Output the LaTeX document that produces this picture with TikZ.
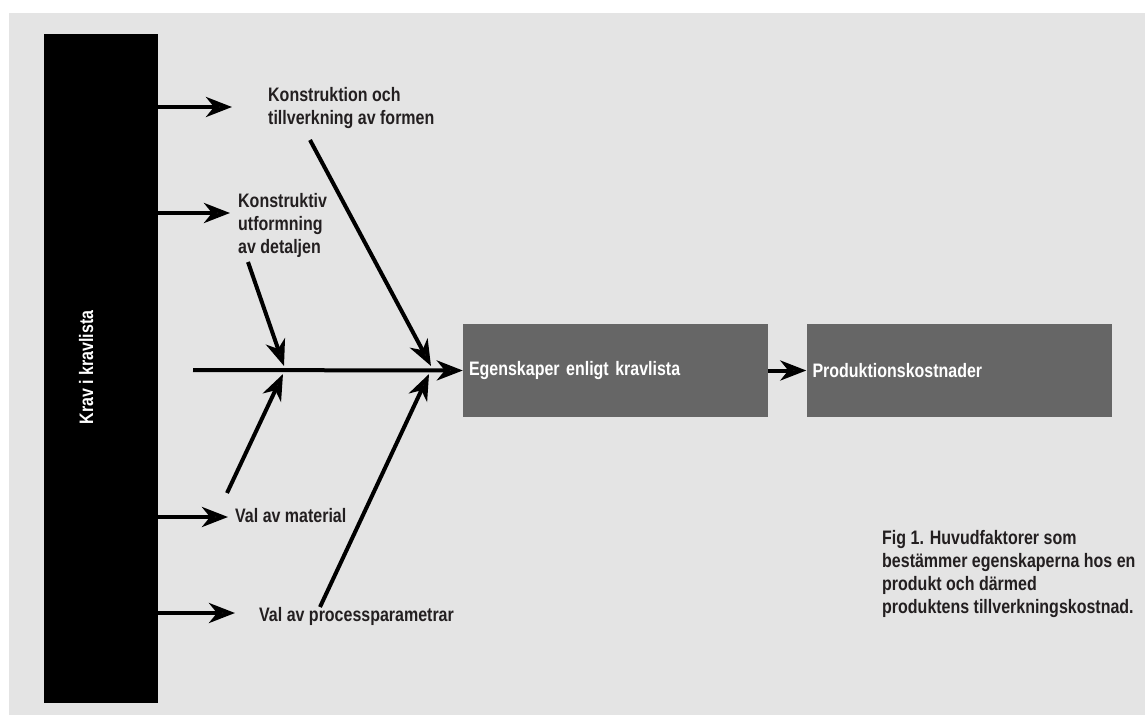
\documentclass[tikz,border=0pt]{standalone}
\usepackage{fontspec}
\setmainfont{Liberation Sans}[FakeStretch=0.82]
\usetikzlibrary{arrows.meta}
\definecolor{bg}{HTML}{E4E4E4}
\definecolor{boxgray}{HTML}{666666}
\definecolor{tipc}{HTML}{231F20}
\definecolor{txt}{HTML}{231F20}
\begin{document}
\begin{tikzpicture}[x=1pt,y=-1pt,
  lbl/.style={font=\fontsize{19.5}{23}\selectfont\bfseries, inner sep=0pt, anchor=base west, text=txt},
  arr/.style={line width=4pt, draw=black, -{Stealth[length=26pt,width=20pt,inset=8pt,fill=tipc]}},
  box/.style={fill=boxgray, text=white, font=\fontsize{19.5}{23}\selectfont\bfseries,
    minimum height=93pt, text width=293pt, inner xsep=6pt, inner ysep=0pt, align=left},
  bar/.style={fill=black, minimum width=114pt, minimum height=669pt, inner sep=0pt}]
\useasboundingbox (0,0) rectangle (1145,715);
\fill[bg] (9,13) rectangle (1145,715);
% left bar
\node[bar] (bar) at (101,368.5) {};
\node[font=\fontsize{19.5}{23}\selectfont\bfseries, text=white, rotate=90, anchor=base, inner sep=0pt] (krav) at (93,367.5) {Krav i kravlista};
% boxes
\node[box] (egen) at (615.5,370.5) {Egenskaper enligt kravlista};
\node[box] (prod) at (959,370.5) {Produktionskostnader};
% labels
\node[lbl] (konst) at (268,101) {\begin{tabular}[t]{@{}l@{}}Konstruktion och\\tillverkning av formen\end{tabular}};
\node[lbl] (utf) at (238,207) {\begin{tabular}[t]{@{}l@{}}Konstruktiv\\utformning\\av detaljen\end{tabular}};
\node[lbl] (mat) at (235,522) {Val av material};
\node[lbl] (proc) at (259,621) {Val av processparametrar};
\node[lbl] (fig) at (882,544) {\begin{tabular}[t]{@{}l@{}}Fig 1. Huvudfaktorer som\\bestämmer egenskaperna hos en\\produkt och därmed\\produktens tillverkningskostnad.\end{tabular}};
% coordinates
\coordinate (t1) at (232,107);
\coordinate (t2) at (230,213);
\coordinate (t3) at (228,517);
\coordinate (t4) at (235,613);
\coordinate (s0) at (193,370);
\coordinate (a1s) at (310,140);
\coordinate (a1e) at (431,366);
\coordinate (a2s) at (248,262);
\coordinate (a2e) at (284,366);
\coordinate (a3s) at (227,493);
\coordinate (a3e) at (283,374);
\coordinate (a4s) at (320,607);
\coordinate (a4e) at (429,374);
% arrows from bar
\draw[arr] (bar.east |- t1) -- (t1);
\draw[arr] (bar.east |- t2) -- (t2);
\draw[arr] (bar.east |- t3) -- (t3);
\draw[arr] (bar.east |- t4) -- (t4);
% spine
\draw[arr] (s0) -- (egen.west);
\draw[arr] (egen.east) -- (prod.west);
% diagonals
\draw[arr] (a1s) -- (a1e);
\draw[arr] (a2s) -- (a2e);
\draw[arr] (a3s) -- (a3e);
\draw[arr] (a4s) -- (a4e);
\end{tikzpicture}
\end{document}
